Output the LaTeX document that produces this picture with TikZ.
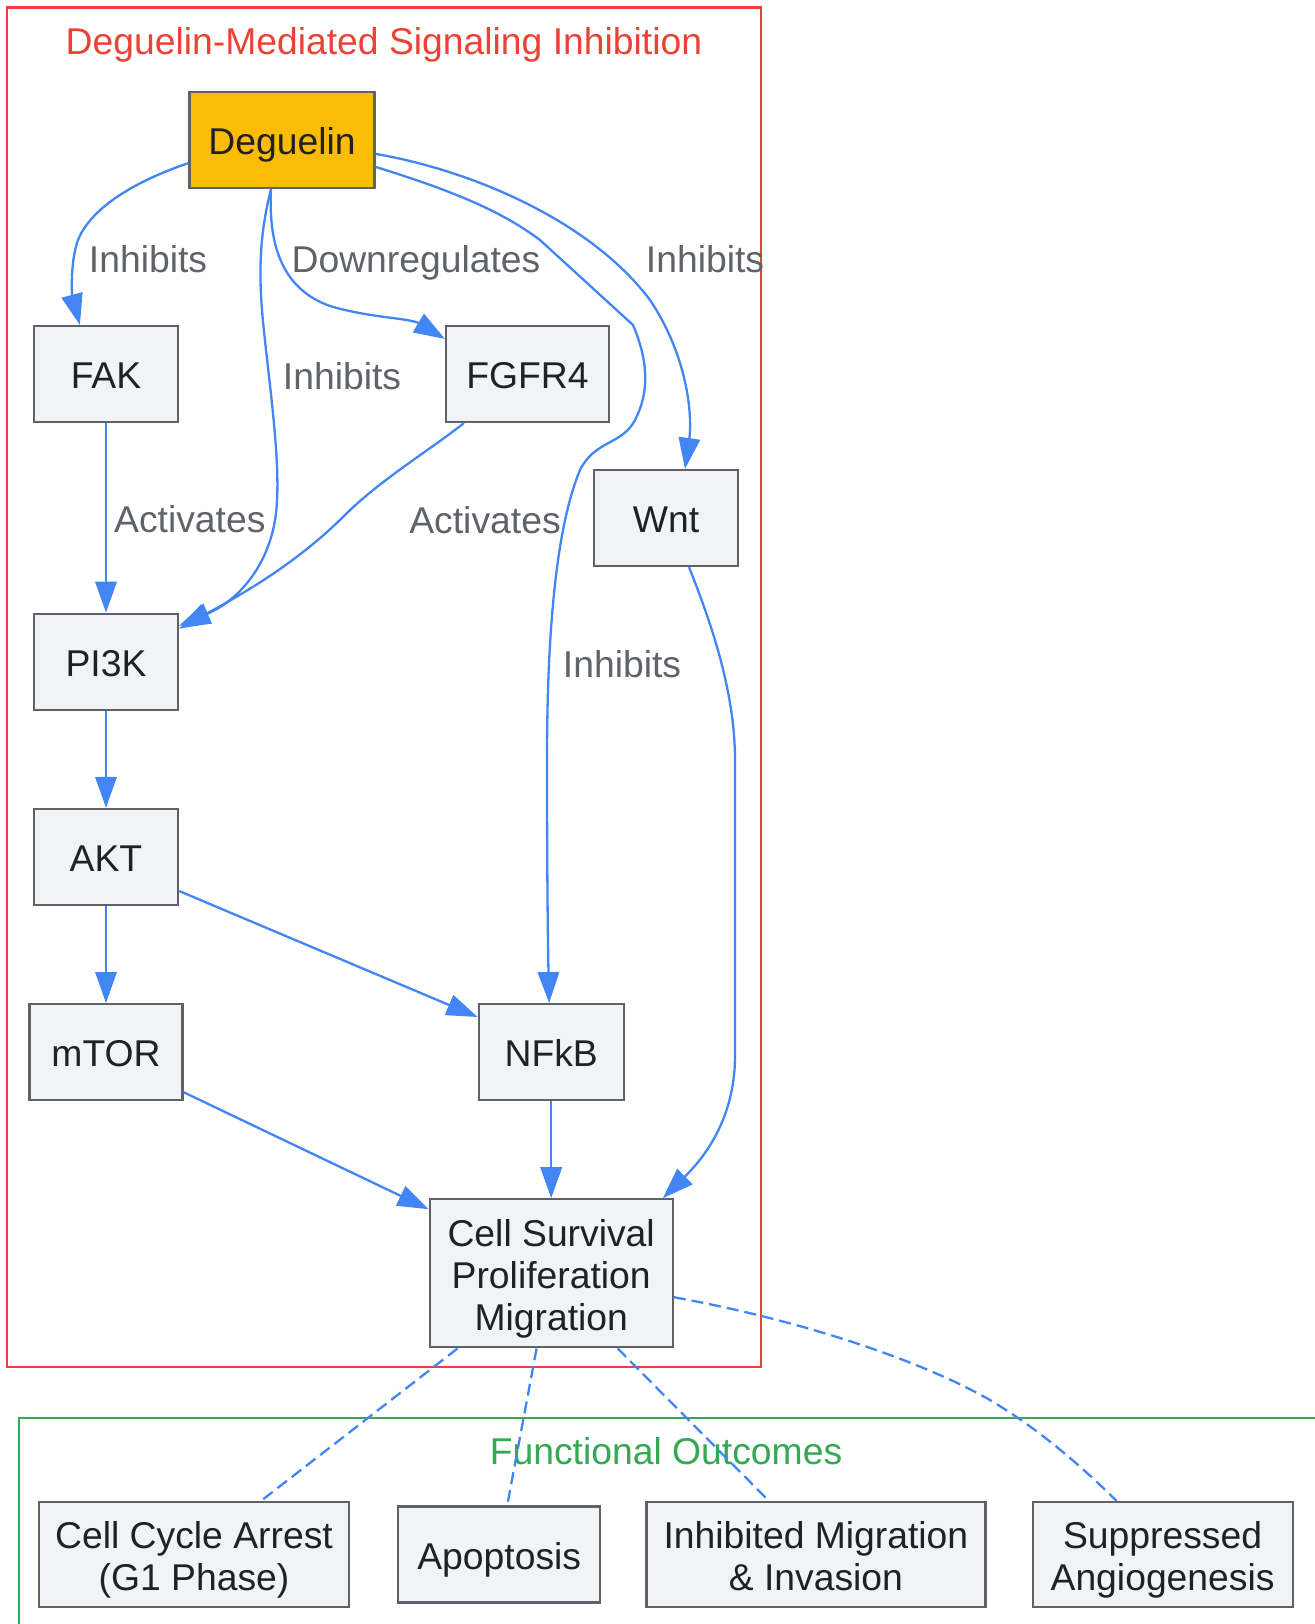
\documentclass[tikz,border=0pt]{standalone}
\usepackage{fontspec}
\setmainfont{Liberation Sans}
\usetikzlibrary{arrows.meta, positioning, calc}

\definecolor{gred}{HTML}{EA4335}
\definecolor{ggreen}{HTML}{34A853}
\definecolor{gblue}{HTML}{4285F4}
\definecolor{gyellow}{HTML}{FBBC05}
\definecolor{boxfill}{HTML}{F1F3F4}
\definecolor{boxline}{HTML}{5F6368}
\definecolor{boxtext}{HTML}{202124}

\newcommand{\boxstrut}{\rule[-4.5pt]{0pt}{23.8pt}}
\newcommand{\boxdepth}{\rule[-4.5pt]{0pt}{4.5pt}}

\begin{document}
\begin{tikzpicture}[
        x=0.5pt, y=-0.5pt,
        node distance=48.5pt,
        font=\fontsize{18.65}{21}\selectfont,
        block/.style={
            rectangle,
            draw=boxline,
            line width=1.1pt,
            fill=boxfill,
            text=boxtext,
            align=center,
            inner sep=0pt,
            minimum width=72pt,
            minimum height=48pt
        },
        drug/.style={
            block,
            fill=gyellow
        },
        outcome/.style={
            block,
            minimum height=52.5pt
        },
        cluster/.style={
            draw,
            line width=1.1pt
        },
        clustertitle/.style={
            inner sep=0pt,
            text height=13pt,
            text depth=0pt
        },
        lbl/.style={
            text=boxline,
            inner sep=2pt,
            text height=13pt,
            text depth=0pt
        },
        line/.style={
            draw=gblue,
            line width=1.15pt,
            -{Triangle[length=15.5pt,width=10.7pt]}
        },
        dashline/.style={
            draw=gblue,
            line width=1.15pt,
            dash pattern=on 6pt off 3pt
        }
    ]
        \useasboundingbox (0,0) rectangle (1314,1624);

        % Clusters
        \draw [cluster, gred] (7,7.5) rectangle (761,1367);
        \draw [cluster, ggreen] (19,1418) rectangle (1340,1650);
        \node [clustertitle, text=gred] (sigtitle) at (384,41) {Deguelin-Mediated Signaling Inhibition};
        \node [clustertitle, text=ggreen] (outtitle) at (666,1451) {Functional Outcomes};

        % Nodes
        \node [drug, minimum width=92.5pt] (deg) at (282,140) {\boxstrut Deguelin};
        \node [block] (fak) at (106,374) {\boxstrut FAK};
        \node [block, minimum width=81.5pt] (fgfr) at (527.5,374) {\boxstrut FGFR4};
        \node [block] (wnt) at (666,518) {\boxstrut Wnt};
        \node [block, below=94.75pt of fak] (pik) {\boxstrut PI3K};
        \node [block, below=of pik] (akt) {\boxstrut AKT};
        \node [block, minimum width=76.5pt, below=of akt] (mtor) {\boxstrut mTOR};
        \node [block, minimum width=72.5pt, right=147pt of mtor] (nfkb) {\boxstrut NFkB};
        \node [block, minimum width=121.5pt, minimum height=74pt, below=of nfkb] (cell)
            {\boxstrut Cell Survival\\Proliferation\\Migration\boxdepth};

        \node [outcome, minimum width=155pt] (arrest) at (194,1554.5) {\boxstrut Cell Cycle Arrest\\(G1 Phase)\boxdepth};
        \node [block, minimum width=101pt, right=23.5pt of arrest] (apop) {\boxstrut Apoptosis};
        \node [outcome, minimum width=169.5pt, right=22pt of apop] (invas) {\boxstrut Inhibited Migration\\\& Invasion\boxdepth};
        \node [outcome, minimum width=130pt, right=22.5pt of invas] (angio) {\boxstrut Suppressed\\Angiogenesis\boxdepth};

        % Edge labels
        \node [lbl] (inhfak) at (148,259) {Inhibits};
        \node [lbl] (downfgfr) at (416,259) {Downregulates};
        \node [lbl] (inhwnt) at (705,259) {Inhibits};
        \node [lbl] (inhpik) at (342,376) {Inhibits};
        \node [lbl] (actfgfr) at (485,520) {Activates};
        \node [lbl] (inhnfkb) at (622,664) {Inhibits};

        % Paths
        \path [line] ($(deg.south west)+(0,-26)$) .. controls (130,183) and (90,210) .. (78,240)
            .. controls (70,262) and (72,295) .. ($(fak.north west)+(47,0)$);
        \path [line] ($(deg.south)+(-11,0)$) .. controls (268,250) and (285,290) .. (330,306)
            .. controls (370,318) and (410,318) .. ($(fgfr.north west)+(0,14)$);
        \path [line] ($(deg.south)+(-11,0)$) .. controls (262,225) and (258,260) .. (262,310)
            .. controls (266,360) and (280,450) .. (277,500)
            .. controls (275,560) and (240,600) .. ($(pik.north east)+(0,13)$);
        \path [line] ($(deg.north east)+(0,63)$) .. controls (470,170) and (590,220) .. (650,300)
            .. controls (690,360) and (692,420) .. ($(wnt.north)+(19,0)$);
        \path [line] ($(deg.north east)+(0,76)$) .. controls (450,190) and (500,210) .. (540,240)
            -- (633,325) .. controls (650,365) and (648,395) .. (635,420)
            .. controls (622,445) and (595,440) .. (580,470)
            .. controls (555,530) and (547,640) .. (547,760)
            .. controls (547,880) and (548,950) .. ($(nfkb.north)+(-2,0)$);
        \path [line] ($(fgfr.south west)+(19,0)$) .. controls (430,450) and (380,480) .. (345,515)
            .. controls (300,560) and (250,590) .. ($(pik.north east)+(0,16)$);
        \path [line] (fak) -- node [lbl, right, xshift=1.5pt, yshift=-1pt] (actfak) {Activates} (pik);
        \path [line] (pik) -- (akt);
        \path [line] (akt) -- (mtor);
        \path [line] ($(akt.south east)+(0,-15)$) -- ($(nfkb.north west)+(0,14)$);
        \path [line] ($(mtor.south east)+(0,-9)$) -- ($(cell.north west)+(0,11)$);
        \path [line] (nfkb) -- (cell);
        \path [line] ($(wnt.south)+(23,0)$) .. controls (710,620) and (735,690) .. (735,760)
            -- (735,1056) .. controls (735,1110) and (712,1150) .. ($(cell.north east)+(-11,0)$);

        \path [dashline] ($(cell.south west)+(29,0)$) -- ($(arrest.north)+(67,0)$);
        \path [dashline] ($(cell.south west)+(108,0)$) -- ($(apop.north)+(8,0)$);
        \path [dashline] ($(cell.south west)+(189,0)$) -- ($(invas.north)+(-47,0)$);
        \path [dashline] ($(cell.north east)+(0,99)$) .. controls (800,1320) and (920,1360) .. (990,1400)
            .. controls (1040,1430) and (1080,1465) .. ($(angio.north)+(-46,0)$);
\end{tikzpicture}
\end{document}
